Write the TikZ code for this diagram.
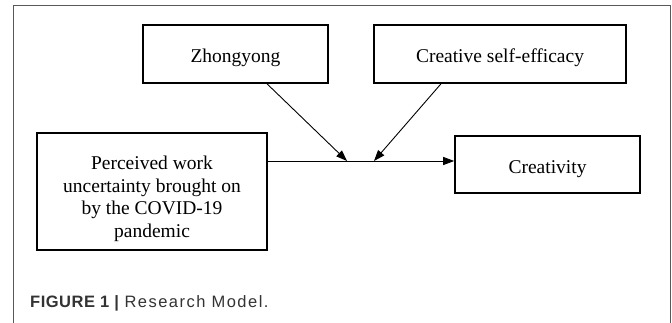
\documentclass[tikz,border=0pt]{standalone}
\usepackage{fontspec}
\setmainfont{Liberation Serif}
\newfontfamily\capfont{Liberation Sans}[LetterSpace=3]
\newfontfamily\capwide{Liberation Sans}[LetterSpace=9]
\usetikzlibrary{arrows.meta, calc}

\begin{document}
\begin{tikzpicture}[x=1pt, y=-1pt,
    box/.style={draw, line width=1.6pt, inner sep=0pt, align=center,
      text height=22pt, text depth=4.2pt, font=\fontsize{19.5}{22.5}\selectfont},
    link/.style={line width=0.9pt, -{Triangle[length=11pt, width=8pt]}}]
  \useasboundingbox (0,0) rectangle (672,323);
  \draw [black!65, line width=1pt] (13,323) -- (13,6) -- (670,6) -- (670,323);

  \node [box, minimum width=185, minimum height=58] (zy) at (235.5,54) {Zhongyong};
  \node [box, minimum width=252, minimum height=58] (se) at (500,54) {Creative self-efficacy};
  \node [box, minimum width=230, minimum height=117, text height=96pt] (pw) at (152,191.5)
    {Perceived work\\uncertainty brought on\\by the COVID-19\\pandemic};
  \node [box, minimum width=185, minimum height=57] (cr) at (547.5,164.5) {Creativity};

  % main path and the two moderators
  \coordinate (lv) at (0,161);
  \coordinate (m1) at (347,161);
  \coordinate (m2) at (374,161);
  \draw [link] (pw.east |- lv) -- (cr.west |- lv);
  \draw [link] ([xshift=31.5pt]zy.south) -- (m1);
  \draw [link] ([xshift=-59pt]se.south) -- (m2);

  \node [anchor=base west, inner sep=0pt, text=black!80,
    font=\capfont\fontsize{16.5}{20}\selectfont] (cap) at (30,307)
    {\textbf{FIGURE 1 |} \capwide Research Model.};
\end{tikzpicture}
\end{document}
